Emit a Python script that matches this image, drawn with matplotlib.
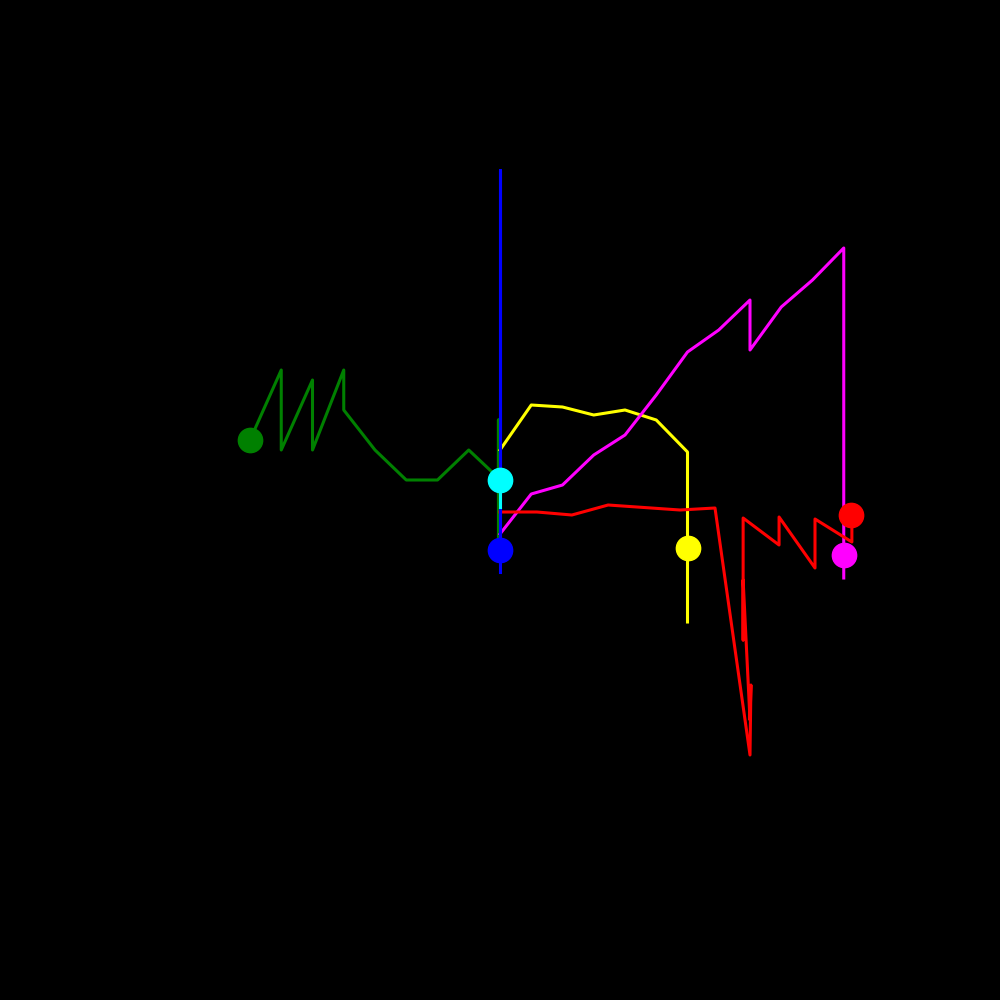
import matplotlib
matplotlib.use("Agg")
import matplotlib.pyplot as plt

# x in steps, y in tenths
green_x = [-8, -7, -7, -6, -6, -5, -5, -4, -3, -2, -1, -0.05, -0.05, -0.05]
green_y = [6, 13, 5, 12, 5, 13, 9, 5, 2, 2, 5, 2.2, 8, -4]
green_start = (-8, 6)

cyan_x = [0, 0]
cyan_y = [2, -0.7]
cyan_start = (0, 2)

blue_x = [0, 0, 0]
blue_y = [-5, 33, -7.2]
blue_start = (0, -5)

yellow_x = [0, 1, 2, 3, 4, 5, 6, 6]
yellow_y = [5, 9.5, 9.3, 8.5, 9, 8, 4.8, -12.2]
yellow_start = (6, -4.8)

magenta_x = [0, 1, 2, 3, 4, 5, 6, 7, 8, 8, 9, 10, 11, 11]
magenta_y = [-3.4, 0.6, 1.5, 4.5, 6.5, 10.5, 14.8, 17, 20, 15, 19.3, 22, 25.2, -7.8]
magenta_start = (11, -5.5)

red_x = [0, 1.18, 2.3, 3.46, 5.76, 6.88, 8.0, 8.03, 8.0, 7.78, 7.78, 7.78,
         8.93, 8.93, 10.08, 10.08, 11.26, 11.26]
red_y = [-1.2, -1.2, -1.5, -0.5, -1.0, -0.8, -25.5, -18.5, -22, -8, -14, -1.8,
         -4.5, -1.7, -6.8, -1.9, -4.2, -2.7]
red_start = (11.23, -1.5)

series = [
    (green_x, green_y, green_start, "#008000"),
    (yellow_x, yellow_y, yellow_start, "#ffff00"),
    (magenta_x, magenta_y, magenta_start, "#ff00ff"),
    (red_x, red_y, red_start, "#ff0000"),
    (blue_x, blue_y, blue_start, "#0000ff"),
    (cyan_x, cyan_y, cyan_start, "#00ffff"),
]

fig = plt.figure(figsize=(10, 10), dpi=100, facecolor="black")
ax = fig.add_axes([0, 0, 1, 1], facecolor="black")

for xs, ys, start, col in series:
    ax.plot(xs, ys, color=col, lw=2.2, zorder=2)
for xs, ys, start, col in series:
    ax.plot([start[0]], [start[1]], "o", color=col, markersize=17.5, zorder=3)

ax.set_xlim(-16, 16)
ax.set_ylim(-50, 50)
ax.axis("off")

fig.savefig("out.png", facecolor="black")
